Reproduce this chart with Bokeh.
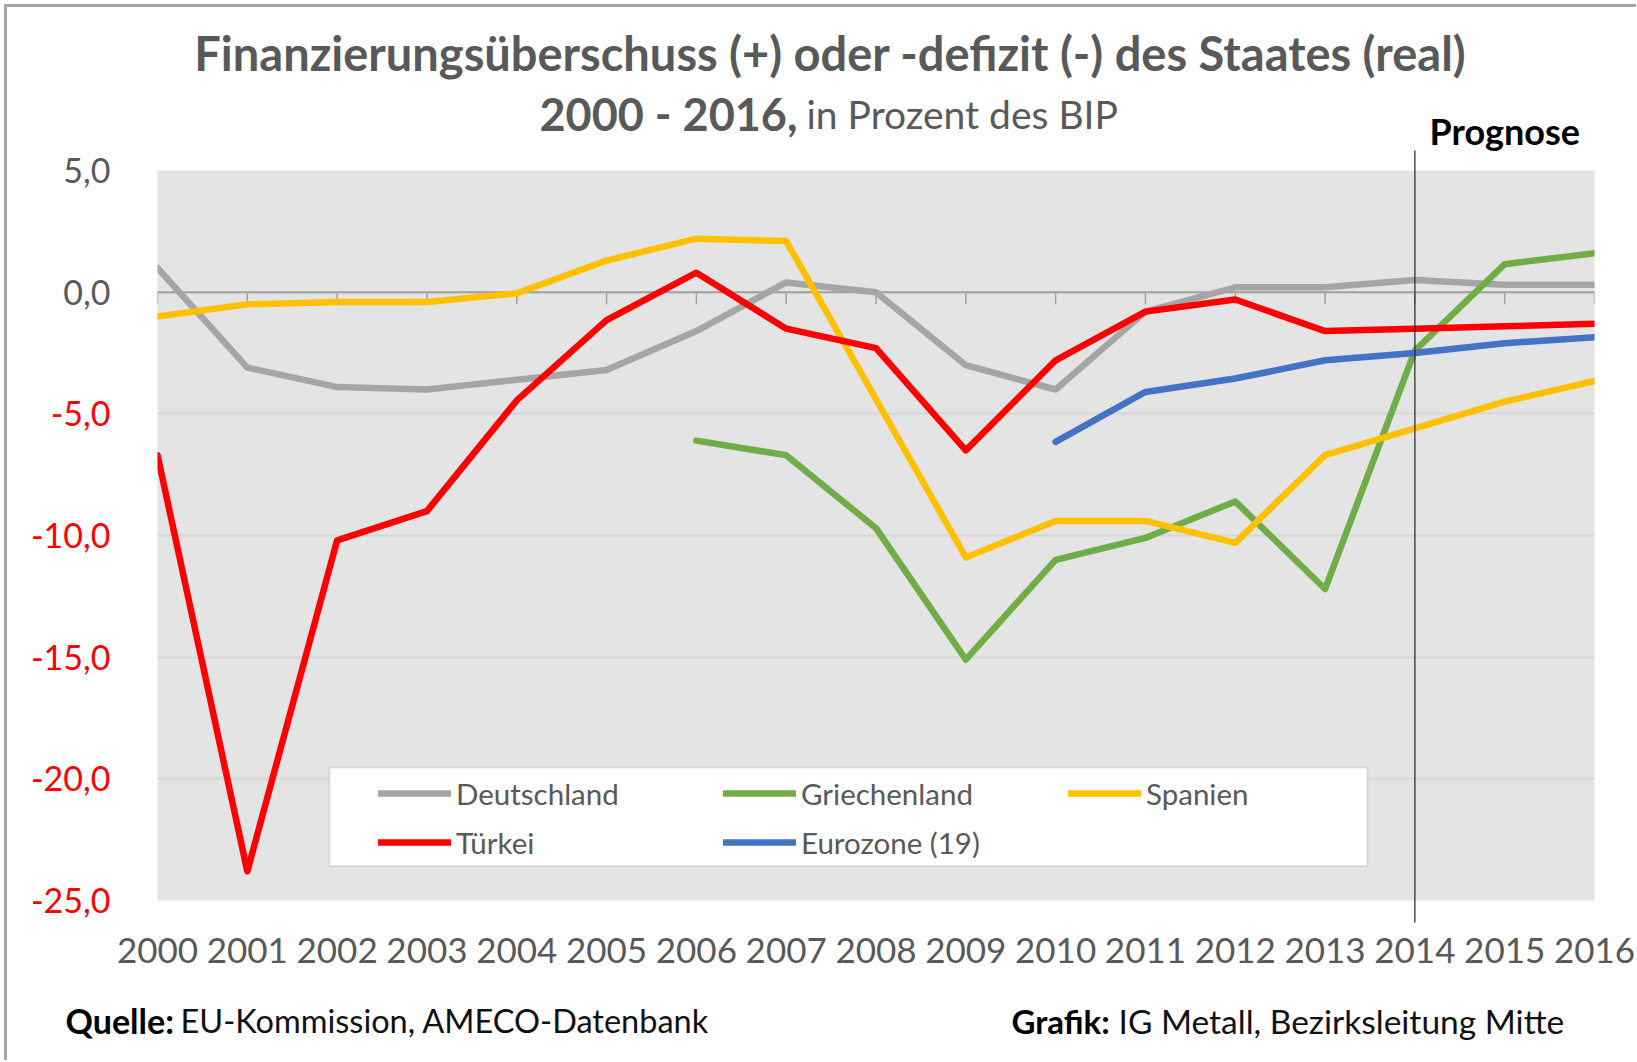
from bokeh.plotting import figure
from bokeh.models import (FixedTicker, Legend, LegendItem, BoxAnnotation, Span, Range1d)
from bokeh.embed import file_html
from bokeh.resources import INLINE
from bokeh.core.properties import value

nan = float("nan")

# ---------------- data ----------------
years = list(range(2000, 2017))
deutschland = [1.0, -3.1, -3.9, -4.0, -3.6, -3.2, -1.6, 0.4, 0.0, -3.0, -4.0, -0.8, 0.2, 0.2, 0.5, 0.3, 0.3]
griechenland = [nan, nan, nan, nan, nan, nan, -6.1, -6.7, -9.7, -15.1, -11.0, -10.1, -8.6, -12.2, -2.4, 1.15, 1.6]
spanien = [-1.0, -0.5, -0.4, -0.4, -0.05, 1.3, 2.2, 2.1, -4.4, -10.9, -9.4, -9.4, -10.3, -6.7, -5.6, -4.5, -3.65]
tuerkei = [-6.7, -23.8, -10.2, -9.0, -4.45, -1.15, 0.8, -1.5, -2.3, -6.5, -2.8, -0.8, -0.3, -1.6, -1.5, -1.4, -1.3]
eurozone = [nan, nan, nan, nan, nan, nan, nan, nan, nan, nan, -6.15, -4.1, -3.55, -2.8, -2.5, -2.1, -1.85]

series_names = ["Deutschland", "Griechenland", "Spanien", "Türkei", "Eurozone (19)"]
y_ticks = [5, 0, -5, -10, -15, -20, -25]
y_tick_labels = ["5,0", "0,0", "-5,0", "-10,0", "-15,0", "-20,0", "-25,0"]
forecast_year = 2014

title1 = "Finanzierungsüberschuss (+) oder -defizit (-) des Staates (real)"
title2_bold = "2000 - 2016,"
title2_rest = "in Prozent des BIP"
forecast_label = "Prognose"
source_bold, source_rest = "Quelle:", "EU-Kommission, AMECO-Datenbank"
credit_bold, credit_rest = "Grafik:", "IG Metall, Bezirksleitung Mitte"

# ---------------- style ----------------
colors = ["#a5a5a5", "#70ad47", "#ffc000", "#ff0000", "#4472c4"]
FONT = "Lato"
TXT = "#595959"

W, H = 1636, 1060
FL, FT, FR, FB = 157, 170, 1594, 900   # frame edges in page pixels
x_range = Range1d(years[0], years[-1])
y_range = Range1d(y_ticks[-1], y_ticks[0])
p = figure(width=W, height=H, x_range=x_range, y_range=y_range,
           output_backend="svg", toolbar_location=None,
           min_border_left=FL, min_border_right=W - FR, min_border_top=FT, min_border_bottom=H - FB,
           background_fill_color="#e4e4e4", border_fill_color="white", border_fill_alpha=0,
           outline_line_color=None)
# outer frame of the graphic (top + left edges), drawn as CSS background behind the canvas
p.styles = {
    "background-color": "white",
    "background-image": "linear-gradient(#a6a6a6, #a6a6a6), linear-gradient(#a6a6a6, #a6a6a6)",
    "background-size": "100% 3px, 3px 100%",
    "background-position": "4px 4px, 4px 4px",
    "background-repeat": "no-repeat",
}

# grid
p.xgrid.visible = False
p.ygrid.ticker = FixedTicker(ticks=y_ticks)
p.ygrid.grid_line_color = "#d6d6d6"
p.ygrid.grid_line_width = 2

# y axis hidden; tick labels drawn as text with per-label colour
p.yaxis.visible = False
lab_colors = [TXT if v >= 0 else "#ff0000" for v in y_ticks]
p.text(x=[x_range.start] * len(y_ticks), y=y_ticks, text=y_tick_labels, x_offset=-47,
       text_align="right", text_baseline="middle", text_color=lab_colors,
       text_font=value(FONT), text_font_size="34px", level="overlay")

# x axis: labels only
xa = p.xaxis[0]
xa.ticker = FixedTicker(ticks=years)
xa.axis_line_color = None
xa.major_tick_line_color = None
xa.minor_tick_line_color = None
xa.major_label_standoff = 31
xa.major_label_text_font = FONT
xa.major_label_text_font_size = "35px"
xa.major_label_text_color = TXT

# zero line with ticks
p.add_layout(Span(location=0, dimension="width", line_color="#a0a0a0", line_width=2, level="underlay"))
zero_tick_len = 0.5
p.segment(x0=years, x1=years, y0=[0] * len(years), y1=[-zero_tick_len] * len(years),
          line_color="#a0a0a0", line_width=1.5, level="underlay")

# data lines
renderers = []
for name, ys, c in zip(series_names, [deutschland, griechenland, spanien, tuerkei, eurozone], colors):
    r = p.line(years, ys, line_color=c, line_width=6.5, line_join="round", line_cap="round")
    renderers.append(r)

# forecast marker
p.segment(x0=[forecast_year], x1=[forecast_year], y0=[5.82], y1=[-25.9],
          line_color="#222222", line_width=1.2, level="overlay")


def page_text(px, py, text, size, bold=False, color=TXT, align="left"):
    """Text positioned by pixel offset from the frame's top-left corner."""
    p.text(x=[x_range.start], y=[y_range.end], text=[text],
           x_offset=px - FL, y_offset=py - FT,
           text_font=value(FONT), text_font_style="bold" if bold else "normal",
           text_font_size=size, text_color=color, text_align=align,
           text_baseline="middle", level="overlay")


page_text(1429, 130, forecast_label, "36px", bold=True, color="black")

# legend frame + legend
p.add_layout(BoxAnnotation(left=2001.915, right=2013.47, top=-19.53, bottom=-23.58,
                           fill_color="white", fill_alpha=1.0, line_color="#a6a6a6", line_width=2))
items = [LegendItem(label=n, renderers=[r]) for n, r in zip(series_names, renderers)]
leg = Legend(items=items, location=(221, 38), orientation="horizontal", ncols=3,
             padding=0, margin=0, spacing=9, glyph_width=73, glyph_height=40,
             label_height=40, label_width=258, label_standoff=5,
             label_text_font=FONT, label_text_font_size="29.5px", label_text_color=TXT,
             border_line_alpha=0, background_fill_alpha=0)
p.add_layout(leg, "center")

# titles
page_text(830, 52, title1, "47px", bold=True, align="center")
page_text(797, 113, title2_bold, "45px", bold=True, align="right")
page_text(806, 113, title2_rest, "39px", align="left")

# footer
page_text(65, 1020, source_bold, "34px", bold=True, color="black")
page_text(180, 1020, source_rest, "32.5px", color="#111111")
page_text(1011, 1020, credit_bold, "33px", bold=True, color="black")
page_text(1118, 1020, credit_rest, "33.5px", color="#111111")

open("out.html", "w").write(file_html(p, INLINE))
